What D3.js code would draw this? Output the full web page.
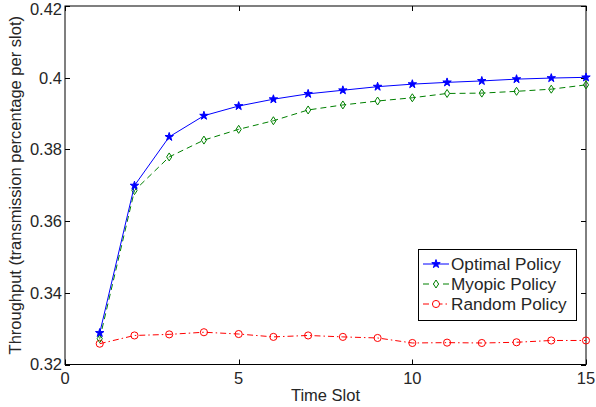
<!DOCTYPE html>
<html>
<head>
<meta charset="utf-8">
<script src="https://cdn.jsdelivr.net/npm/d3@7"></script>
<style>
  html, body { margin: 0; padding: 0; background: #fff; }
  svg { display: block; font-family: "Liberation Sans", Arial, Helvetica, sans-serif; }
</style>
</head>
<body>
<svg id="chart" width="596" height="407"></svg>
<script>
// Time slots and throughput per policy
const slots = [1, 2, 3, 4, 5, 6, 7, 8, 9, 10, 11, 12, 13, 14, 15];
const optimal = [0.3288, 0.3699, 0.3835, 0.3894, 0.3921, 0.3940, 0.3955, 0.3965, 0.3975, 0.3982, 0.3987, 0.3991, 0.3996, 0.3999, 0.4001];
const myopic  = [0.3272, 0.3685, 0.3779, 0.3826, 0.3856, 0.3880, 0.3910, 0.3924, 0.3935, 0.3944, 0.3956, 0.3957, 0.3962, 0.3968, 0.3980];
const random  = [0.3258, 0.3281, 0.3284, 0.3290, 0.3285, 0.3277, 0.3281, 0.3277, 0.3274, 0.3260, 0.3261, 0.3260, 0.3262, 0.3267, 0.3267];
const xTicks = [0, 5, 10, 15];
const yTicks = [0.32, 0.34, 0.36, 0.38, 0.40, 0.42];
const seriesNames = ["Optimal Policy", "Myopic Policy", "Random Policy"];

(function draw() {
  const svg = d3.select("#chart");
  const plotL = 65, plotR = 586, plotT = 6, plotB = 364.5;
  const x = d3.scaleLinear().domain([0, 15]).range([plotL, plotR]);
  const y = d3.scaleLinear().domain([0.32, 0.42]).range([plotB, plotT]);
  const textColor = "#262626";
  const fontSize = 16.5;

  // Axes box with inward ticks on all four sides
  const tickLen = 5;
  const g = svg.append("g").attr("stroke", "#000").attr("stroke-width", 1).attr("fill", "none");
  g.append("rect").attr("x", plotL).attr("y", plotT).attr("width", plotR - plotL).attr("height", plotB - plotT);
  xTicks.forEach(t => {
    const px = Math.round(x(t)) + 0.5;
    g.append("line").attr("x1", px).attr("x2", px).attr("y1", plotB).attr("y2", plotB - tickLen);
    g.append("line").attr("x1", px).attr("x2", px).attr("y1", plotT).attr("y2", plotT + tickLen);
  });
  yTicks.forEach(t => {
    const py = Math.round(y(t)) + 0.5;
    g.append("line").attr("x1", plotL).attr("x2", plotL + tickLen).attr("y1", py).attr("y2", py);
    g.append("line").attr("x1", plotR).attr("x2", plotR - tickLen).attr("y1", py).attr("y2", py);
  });

  // Tick labels (the top one is kept inside the page)
  svg.append("g").selectAll("text").data(xTicks).join("text")
    .attr("x", d => x(d)).attr("y", plotB + 19)
    .attr("text-anchor", "middle").attr("font-size", fontSize).attr("fill", textColor)
    .text(d => d3.format("d")(d));
  svg.append("g").selectAll("text").data(yTicks).join("text")
    .attr("x", plotL - 3).attr("y", d => Math.max(y(d), 9.5)).attr("dy", "0.36em")
    .attr("text-anchor", "end").attr("font-size", fontSize).attr("fill", textColor)
    .text(d => d === 0.4 ? "0.4" : d3.format(".2f")(d));

  // Axis titles
  svg.append("text").attr("x", (plotL + plotR) / 2).attr("y", 401)
    .attr("text-anchor", "middle").attr("font-size", fontSize).attr("fill", textColor)
    .text("Time Slot");
  svg.append("text").attr("transform", `translate(21,${(plotT + plotB) / 2}) rotate(-90)`)
    .attr("text-anchor", "middle").attr("font-size", fontSize).attr("fill", textColor)
    .text("Throughput (transmission percentage per slot)");

  // Marker shapes
  const star = d3.symbol().type(d3.symbolStar).size(22)();
  const diamond = "M0,-4L2.6,0L0,4L-2.6,0Z";
  const circle = d3.symbol().type(d3.symbolCircle).size(40)();

  const series = [
    { name: seriesNames[0], values: optimal, color: "#0000ff", dash: null, marker: star, fill: "#0000ff" },
    { name: seriesNames[1], values: myopic, color: "#008000", dash: "6,4", marker: diamond, fill: "none" },
    { name: seriesNames[2], values: random, color: "#ff0000", dash: "6,3,1.5,3", marker: circle, fill: "none" }
  ];

  const line = d3.line().x(d => x(d[0])).y(d => y(d[1]));
  const plot = svg.append("g");
  // draw in reverse so the optimal curve sits on top
  series.slice().reverse().forEach(s => {
    const pts = slots.map((t, i) => [t, s.values[i]]);
    plot.append("path").datum(pts).attr("d", line)
      .attr("fill", "none").attr("stroke", s.color).attr("stroke-width", 1)
      .attr("stroke-dasharray", s.dash);
    plot.append("g").selectAll("path").data(pts).join("path")
      .attr("transform", d => `translate(${x(d[0])},${y(d[1])})`)
      .attr("d", s.marker).attr("fill", s.fill).attr("stroke", s.color).attr("stroke-width", 1);
  });

  // Legend
  const lg = svg.append("g");
  lg.append("rect").attr("x", 418.5).attr("y", 249.5).attr("width", 158).attr("height", 71)
    .attr("fill", "#fff").attr("stroke", "#000").attr("stroke-width", 1);
  const rowY = [264, 284, 304];
  series.forEach((s, i) => {
    lg.append("line").attr("x1", 423).attr("x2", 449).attr("y1", rowY[i]).attr("y2", rowY[i])
      .attr("stroke", s.color).attr("stroke-width", 1).attr("stroke-dasharray", s.dash);
    lg.append("path").attr("transform", `translate(436,${rowY[i]})`).attr("d", s.marker)
      .attr("fill", s.fill === "none" ? "#fff" : s.fill).attr("stroke", s.color).attr("stroke-width", 1);
    lg.append("text").attr("x", 451).attr("y", rowY[i]).attr("dy", "0.36em")
      .attr("font-size", 17.2).attr("fill", textColor).text(s.name);
  });
})();
</script>
</body>
</html>
